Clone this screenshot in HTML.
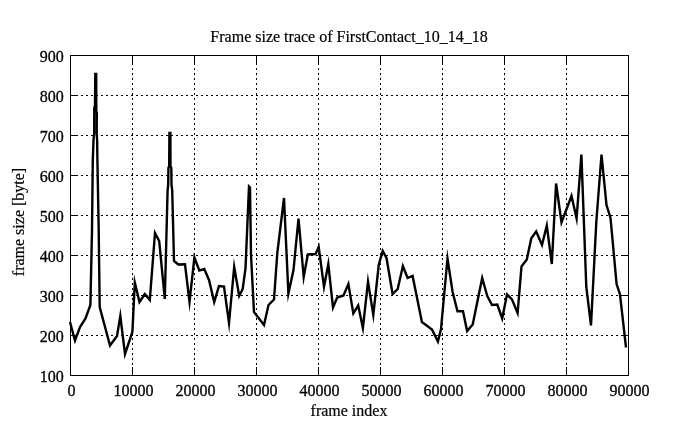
<!DOCTYPE html>
<html><head><meta charset="utf-8"><style>
html,body{margin:0;padding:0;background:#fff;}
svg{display:block;filter:grayscale(100%);}
text{font-family:"Liberation Serif",serif;font-size:16px;fill:#000;stroke:#000;stroke-width:0.2px;}
text.n{stroke-width:0.3px;}
</style></head><body>
<svg width="695" height="429" viewBox="0 0 695 429">
<rect width="695" height="429" fill="#fff"/>
<path d="M81 95.5h2M86 95.5h2M91 95.5h2M96 95.5h2M101 95.5h2M106 95.5h2M111 95.5h2M116 95.5h2M121 95.5h2M126 95.5h2M131 95.5h2M136 95.5h2M141 95.5h2M146 95.5h2M151 95.5h2M156 95.5h2M161 95.5h2M166 95.5h2M171 95.5h2M176 95.5h2M181 95.5h2M186 95.5h2M191 95.5h2M196 95.5h2M201 95.5h2M206 95.5h2M211 95.5h2M216 95.5h2M221 95.5h2M226 95.5h2M231 95.5h2M236 95.5h2M241 95.5h2M246 95.5h2M251 95.5h2M256 95.5h2M261 95.5h2M266 95.5h2M271 95.5h2M276 95.5h2M281 95.5h2M286 95.5h2M291 95.5h2M296 95.5h2M301 95.5h2M306 95.5h2M311 95.5h2M316 95.5h2M321 95.5h2M326 95.5h2M331 95.5h2M336 95.5h2M341 95.5h2M346 95.5h2M351 95.5h2M356 95.5h2M361 95.5h2M366 95.5h2M371 95.5h2M376 95.5h2M381 95.5h2M386 95.5h2M391 95.5h2M396 95.5h2M401 95.5h2M406 95.5h2M411 95.5h2M416 95.5h2M421 95.5h2M426 95.5h2M431 95.5h2M436 95.5h2M441 95.5h2M446 95.5h2M451 95.5h2M456 95.5h2M461 95.5h2M466 95.5h2M471 95.5h2M476 95.5h2M481 95.5h2M486 95.5h2M491 95.5h2M496 95.5h2M501 95.5h2M506 95.5h2M511 95.5h2M516 95.5h2M521 95.5h2M526 95.5h2M531 95.5h2M536 95.5h2M541 95.5h2M546 95.5h2M551 95.5h2M556 95.5h2M561 95.5h2M566 95.5h2M571 95.5h2M576 95.5h2M581 95.5h2M586 95.5h2M591 95.5h2M596 95.5h2M601 95.5h2M606 95.5h2M611 95.5h2M616 95.5h2M81 135.5h2M86 135.5h2M91 135.5h2M96 135.5h2M101 135.5h2M106 135.5h2M111 135.5h2M116 135.5h2M121 135.5h2M126 135.5h2M131 135.5h2M136 135.5h2M141 135.5h2M146 135.5h2M151 135.5h2M156 135.5h2M161 135.5h2M166 135.5h2M171 135.5h2M176 135.5h2M181 135.5h2M186 135.5h2M191 135.5h2M196 135.5h2M201 135.5h2M206 135.5h2M211 135.5h2M216 135.5h2M221 135.5h2M226 135.5h2M231 135.5h2M236 135.5h2M241 135.5h2M246 135.5h2M251 135.5h2M256 135.5h2M261 135.5h2M266 135.5h2M271 135.5h2M276 135.5h2M281 135.5h2M286 135.5h2M291 135.5h2M296 135.5h2M301 135.5h2M306 135.5h2M311 135.5h2M316 135.5h2M321 135.5h2M326 135.5h2M331 135.5h2M336 135.5h2M341 135.5h2M346 135.5h2M351 135.5h2M356 135.5h2M361 135.5h2M366 135.5h2M371 135.5h2M376 135.5h2M381 135.5h2M386 135.5h2M391 135.5h2M396 135.5h2M401 135.5h2M406 135.5h2M411 135.5h2M416 135.5h2M421 135.5h2M426 135.5h2M431 135.5h2M436 135.5h2M441 135.5h2M446 135.5h2M451 135.5h2M456 135.5h2M461 135.5h2M466 135.5h2M471 135.5h2M476 135.5h2M481 135.5h2M486 135.5h2M491 135.5h2M496 135.5h2M501 135.5h2M506 135.5h2M511 135.5h2M516 135.5h2M521 135.5h2M526 135.5h2M531 135.5h2M536 135.5h2M541 135.5h2M546 135.5h2M551 135.5h2M556 135.5h2M561 135.5h2M566 135.5h2M571 135.5h2M576 135.5h2M581 135.5h2M586 135.5h2M591 135.5h2M596 135.5h2M601 135.5h2M606 135.5h2M611 135.5h2M616 135.5h2M81 175.5h2M86 175.5h2M91 175.5h2M96 175.5h2M101 175.5h2M106 175.5h2M111 175.5h2M116 175.5h2M121 175.5h2M126 175.5h2M131 175.5h2M136 175.5h2M141 175.5h2M146 175.5h2M151 175.5h2M156 175.5h2M161 175.5h2M166 175.5h2M171 175.5h2M176 175.5h2M181 175.5h2M186 175.5h2M191 175.5h2M196 175.5h2M201 175.5h2M206 175.5h2M211 175.5h2M216 175.5h2M221 175.5h2M226 175.5h2M231 175.5h2M236 175.5h2M241 175.5h2M246 175.5h2M251 175.5h2M256 175.5h2M261 175.5h2M266 175.5h2M271 175.5h2M276 175.5h2M281 175.5h2M286 175.5h2M291 175.5h2M296 175.5h2M301 175.5h2M306 175.5h2M311 175.5h2M316 175.5h2M321 175.5h2M326 175.5h2M331 175.5h2M336 175.5h2M341 175.5h2M346 175.5h2M351 175.5h2M356 175.5h2M361 175.5h2M366 175.5h2M371 175.5h2M376 175.5h2M381 175.5h2M386 175.5h2M391 175.5h2M396 175.5h2M401 175.5h2M406 175.5h2M411 175.5h2M416 175.5h2M421 175.5h2M426 175.5h2M431 175.5h2M436 175.5h2M441 175.5h2M446 175.5h2M451 175.5h2M456 175.5h2M461 175.5h2M466 175.5h2M471 175.5h2M476 175.5h2M481 175.5h2M486 175.5h2M491 175.5h2M496 175.5h2M501 175.5h2M506 175.5h2M511 175.5h2M516 175.5h2M521 175.5h2M526 175.5h2M531 175.5h2M536 175.5h2M541 175.5h2M546 175.5h2M551 175.5h2M556 175.5h2M561 175.5h2M566 175.5h2M571 175.5h2M576 175.5h2M581 175.5h2M586 175.5h2M591 175.5h2M596 175.5h2M601 175.5h2M606 175.5h2M611 175.5h2M616 175.5h2M81 215.5h2M86 215.5h2M91 215.5h2M96 215.5h2M101 215.5h2M106 215.5h2M111 215.5h2M116 215.5h2M121 215.5h2M126 215.5h2M131 215.5h2M136 215.5h2M141 215.5h2M146 215.5h2M151 215.5h2M156 215.5h2M161 215.5h2M166 215.5h2M171 215.5h2M176 215.5h2M181 215.5h2M186 215.5h2M191 215.5h2M196 215.5h2M201 215.5h2M206 215.5h2M211 215.5h2M216 215.5h2M221 215.5h2M226 215.5h2M231 215.5h2M236 215.5h2M241 215.5h2M246 215.5h2M251 215.5h2M256 215.5h2M261 215.5h2M266 215.5h2M271 215.5h2M276 215.5h2M281 215.5h2M286 215.5h2M291 215.5h2M296 215.5h2M301 215.5h2M306 215.5h2M311 215.5h2M316 215.5h2M321 215.5h2M326 215.5h2M331 215.5h2M336 215.5h2M341 215.5h2M346 215.5h2M351 215.5h2M356 215.5h2M361 215.5h2M366 215.5h2M371 215.5h2M376 215.5h2M381 215.5h2M386 215.5h2M391 215.5h2M396 215.5h2M401 215.5h2M406 215.5h2M411 215.5h2M416 215.5h2M421 215.5h2M426 215.5h2M431 215.5h2M436 215.5h2M441 215.5h2M446 215.5h2M451 215.5h2M456 215.5h2M461 215.5h2M466 215.5h2M471 215.5h2M476 215.5h2M481 215.5h2M486 215.5h2M491 215.5h2M496 215.5h2M501 215.5h2M506 215.5h2M511 215.5h2M516 215.5h2M521 215.5h2M526 215.5h2M531 215.5h2M536 215.5h2M541 215.5h2M546 215.5h2M551 215.5h2M556 215.5h2M561 215.5h2M566 215.5h2M571 215.5h2M576 215.5h2M581 215.5h2M586 215.5h2M591 215.5h2M596 215.5h2M601 215.5h2M606 215.5h2M611 215.5h2M616 215.5h2M81 255.5h2M86 255.5h2M91 255.5h2M96 255.5h2M101 255.5h2M106 255.5h2M111 255.5h2M116 255.5h2M121 255.5h2M126 255.5h2M131 255.5h2M136 255.5h2M141 255.5h2M146 255.5h2M151 255.5h2M156 255.5h2M161 255.5h2M166 255.5h2M171 255.5h2M176 255.5h2M181 255.5h2M186 255.5h2M191 255.5h2M196 255.5h2M201 255.5h2M206 255.5h2M211 255.5h2M216 255.5h2M221 255.5h2M226 255.5h2M231 255.5h2M236 255.5h2M241 255.5h2M246 255.5h2M251 255.5h2M256 255.5h2M261 255.5h2M266 255.5h2M271 255.5h2M276 255.5h2M281 255.5h2M286 255.5h2M291 255.5h2M296 255.5h2M301 255.5h2M306 255.5h2M311 255.5h2M316 255.5h2M321 255.5h2M326 255.5h2M331 255.5h2M336 255.5h2M341 255.5h2M346 255.5h2M351 255.5h2M356 255.5h2M361 255.5h2M366 255.5h2M371 255.5h2M376 255.5h2M381 255.5h2M386 255.5h2M391 255.5h2M396 255.5h2M401 255.5h2M406 255.5h2M411 255.5h2M416 255.5h2M421 255.5h2M426 255.5h2M431 255.5h2M436 255.5h2M441 255.5h2M446 255.5h2M451 255.5h2M456 255.5h2M461 255.5h2M466 255.5h2M471 255.5h2M476 255.5h2M481 255.5h2M486 255.5h2M491 255.5h2M496 255.5h2M501 255.5h2M506 255.5h2M511 255.5h2M516 255.5h2M521 255.5h2M526 255.5h2M531 255.5h2M536 255.5h2M541 255.5h2M546 255.5h2M551 255.5h2M556 255.5h2M561 255.5h2M566 255.5h2M571 255.5h2M576 255.5h2M581 255.5h2M586 255.5h2M591 255.5h2M596 255.5h2M601 255.5h2M606 255.5h2M611 255.5h2M616 255.5h2M81 295.5h2M86 295.5h2M91 295.5h2M96 295.5h2M101 295.5h2M106 295.5h2M111 295.5h2M116 295.5h2M121 295.5h2M126 295.5h2M131 295.5h2M136 295.5h2M141 295.5h2M146 295.5h2M151 295.5h2M156 295.5h2M161 295.5h2M166 295.5h2M171 295.5h2M176 295.5h2M181 295.5h2M186 295.5h2M191 295.5h2M196 295.5h2M201 295.5h2M206 295.5h2M211 295.5h2M216 295.5h2M221 295.5h2M226 295.5h2M231 295.5h2M236 295.5h2M241 295.5h2M246 295.5h2M251 295.5h2M256 295.5h2M261 295.5h2M266 295.5h2M271 295.5h2M276 295.5h2M281 295.5h2M286 295.5h2M291 295.5h2M296 295.5h2M301 295.5h2M306 295.5h2M311 295.5h2M316 295.5h2M321 295.5h2M326 295.5h2M331 295.5h2M336 295.5h2M341 295.5h2M346 295.5h2M351 295.5h2M356 295.5h2M361 295.5h2M366 295.5h2M371 295.5h2M376 295.5h2M381 295.5h2M386 295.5h2M391 295.5h2M396 295.5h2M401 295.5h2M406 295.5h2M411 295.5h2M416 295.5h2M421 295.5h2M426 295.5h2M431 295.5h2M436 295.5h2M441 295.5h2M446 295.5h2M451 295.5h2M456 295.5h2M461 295.5h2M466 295.5h2M471 295.5h2M476 295.5h2M481 295.5h2M486 295.5h2M491 295.5h2M496 295.5h2M501 295.5h2M506 295.5h2M511 295.5h2M516 295.5h2M521 295.5h2M526 295.5h2M531 295.5h2M536 295.5h2M541 295.5h2M546 295.5h2M551 295.5h2M556 295.5h2M561 295.5h2M566 295.5h2M571 295.5h2M576 295.5h2M581 295.5h2M586 295.5h2M591 295.5h2M596 295.5h2M601 295.5h2M606 295.5h2M611 295.5h2M616 295.5h2M81 335.5h2M86 335.5h2M91 335.5h2M96 335.5h2M101 335.5h2M106 335.5h2M111 335.5h2M116 335.5h2M121 335.5h2M126 335.5h2M131 335.5h2M136 335.5h2M141 335.5h2M146 335.5h2M151 335.5h2M156 335.5h2M161 335.5h2M166 335.5h2M171 335.5h2M176 335.5h2M181 335.5h2M186 335.5h2M191 335.5h2M196 335.5h2M201 335.5h2M206 335.5h2M211 335.5h2M216 335.5h2M221 335.5h2M226 335.5h2M231 335.5h2M236 335.5h2M241 335.5h2M246 335.5h2M251 335.5h2M256 335.5h2M261 335.5h2M266 335.5h2M271 335.5h2M276 335.5h2M281 335.5h2M286 335.5h2M291 335.5h2M296 335.5h2M301 335.5h2M306 335.5h2M311 335.5h2M316 335.5h2M321 335.5h2M326 335.5h2M331 335.5h2M336 335.5h2M341 335.5h2M346 335.5h2M351 335.5h2M356 335.5h2M361 335.5h2M366 335.5h2M371 335.5h2M376 335.5h2M381 335.5h2M386 335.5h2M391 335.5h2M396 335.5h2M401 335.5h2M406 335.5h2M411 335.5h2M416 335.5h2M421 335.5h2M426 335.5h2M431 335.5h2M436 335.5h2M441 335.5h2M446 335.5h2M451 335.5h2M456 335.5h2M461 335.5h2M466 335.5h2M471 335.5h2M476 335.5h2M481 335.5h2M486 335.5h2M491 335.5h2M496 335.5h2M501 335.5h2M506 335.5h2M511 335.5h2M516 335.5h2M521 335.5h2M526 335.5h2M531 335.5h2M536 335.5h2M541 335.5h2M546 335.5h2M551 335.5h2M556 335.5h2M561 335.5h2M566 335.5h2M571 335.5h2M576 335.5h2M581 335.5h2M586 335.5h2M591 335.5h2M596 335.5h2M601 335.5h2M606 335.5h2M611 335.5h2M616 335.5h2M132.5 63v2M132.5 68v2M132.5 73v2M132.5 78v2M132.5 83v2M132.5 88v2M132.5 93v2M132.5 98v2M132.5 103v2M132.5 108v2M132.5 113v2M132.5 118v2M132.5 123v2M132.5 128v2M132.5 133v2M132.5 138v2M132.5 143v2M132.5 148v2M132.5 153v2M132.5 158v2M132.5 163v2M132.5 168v2M132.5 173v2M132.5 178v2M132.5 183v2M132.5 188v2M132.5 193v2M132.5 198v2M132.5 203v2M132.5 208v2M132.5 213v2M132.5 218v2M132.5 223v2M132.5 228v2M132.5 233v2M132.5 238v2M132.5 243v2M132.5 248v2M132.5 253v2M132.5 258v2M132.5 263v2M132.5 268v2M132.5 273v2M132.5 278v2M132.5 283v2M132.5 288v2M132.5 293v2M132.5 298v2M132.5 303v2M132.5 308v2M132.5 313v2M132.5 318v2M132.5 323v2M132.5 328v2M132.5 333v2M132.5 338v2M132.5 343v2M132.5 348v2M132.5 353v2M132.5 358v2M132.5 363v2M194.5 63v2M194.5 68v2M194.5 73v2M194.5 78v2M194.5 83v2M194.5 88v2M194.5 93v2M194.5 98v2M194.5 103v2M194.5 108v2M194.5 113v2M194.5 118v2M194.5 123v2M194.5 128v2M194.5 133v2M194.5 138v2M194.5 143v2M194.5 148v2M194.5 153v2M194.5 158v2M194.5 163v2M194.5 168v2M194.5 173v2M194.5 178v2M194.5 183v2M194.5 188v2M194.5 193v2M194.5 198v2M194.5 203v2M194.5 208v2M194.5 213v2M194.5 218v2M194.5 223v2M194.5 228v2M194.5 233v2M194.5 238v2M194.5 243v2M194.5 248v2M194.5 253v2M194.5 258v2M194.5 263v2M194.5 268v2M194.5 273v2M194.5 278v2M194.5 283v2M194.5 288v2M194.5 293v2M194.5 298v2M194.5 303v2M194.5 308v2M194.5 313v2M194.5 318v2M194.5 323v2M194.5 328v2M194.5 333v2M194.5 338v2M194.5 343v2M194.5 348v2M194.5 353v2M194.5 358v2M194.5 363v2M256.5 63v2M256.5 68v2M256.5 73v2M256.5 78v2M256.5 83v2M256.5 88v2M256.5 93v2M256.5 98v2M256.5 103v2M256.5 108v2M256.5 113v2M256.5 118v2M256.5 123v2M256.5 128v2M256.5 133v2M256.5 138v2M256.5 143v2M256.5 148v2M256.5 153v2M256.5 158v2M256.5 163v2M256.5 168v2M256.5 173v2M256.5 178v2M256.5 183v2M256.5 188v2M256.5 193v2M256.5 198v2M256.5 203v2M256.5 208v2M256.5 213v2M256.5 218v2M256.5 223v2M256.5 228v2M256.5 233v2M256.5 238v2M256.5 243v2M256.5 248v2M256.5 253v2M256.5 258v2M256.5 263v2M256.5 268v2M256.5 273v2M256.5 278v2M256.5 283v2M256.5 288v2M256.5 293v2M256.5 298v2M256.5 303v2M256.5 308v2M256.5 313v2M256.5 318v2M256.5 323v2M256.5 328v2M256.5 333v2M256.5 338v2M256.5 343v2M256.5 348v2M256.5 353v2M256.5 358v2M256.5 363v2M318.5 63v2M318.5 68v2M318.5 73v2M318.5 78v2M318.5 83v2M318.5 88v2M318.5 93v2M318.5 98v2M318.5 103v2M318.5 108v2M318.5 113v2M318.5 118v2M318.5 123v2M318.5 128v2M318.5 133v2M318.5 138v2M318.5 143v2M318.5 148v2M318.5 153v2M318.5 158v2M318.5 163v2M318.5 168v2M318.5 173v2M318.5 178v2M318.5 183v2M318.5 188v2M318.5 193v2M318.5 198v2M318.5 203v2M318.5 208v2M318.5 213v2M318.5 218v2M318.5 223v2M318.5 228v2M318.5 233v2M318.5 238v2M318.5 243v2M318.5 248v2M318.5 253v2M318.5 258v2M318.5 263v2M318.5 268v2M318.5 273v2M318.5 278v2M318.5 283v2M318.5 288v2M318.5 293v2M318.5 298v2M318.5 303v2M318.5 308v2M318.5 313v2M318.5 318v2M318.5 323v2M318.5 328v2M318.5 333v2M318.5 338v2M318.5 343v2M318.5 348v2M318.5 353v2M318.5 358v2M318.5 363v2M380.5 63v2M380.5 68v2M380.5 73v2M380.5 78v2M380.5 83v2M380.5 88v2M380.5 93v2M380.5 98v2M380.5 103v2M380.5 108v2M380.5 113v2M380.5 118v2M380.5 123v2M380.5 128v2M380.5 133v2M380.5 138v2M380.5 143v2M380.5 148v2M380.5 153v2M380.5 158v2M380.5 163v2M380.5 168v2M380.5 173v2M380.5 178v2M380.5 183v2M380.5 188v2M380.5 193v2M380.5 198v2M380.5 203v2M380.5 208v2M380.5 213v2M380.5 218v2M380.5 223v2M380.5 228v2M380.5 233v2M380.5 238v2M380.5 243v2M380.5 248v2M380.5 253v2M380.5 258v2M380.5 263v2M380.5 268v2M380.5 273v2M380.5 278v2M380.5 283v2M380.5 288v2M380.5 293v2M380.5 298v2M380.5 303v2M380.5 308v2M380.5 313v2M380.5 318v2M380.5 323v2M380.5 328v2M380.5 333v2M380.5 338v2M380.5 343v2M380.5 348v2M380.5 353v2M380.5 358v2M380.5 363v2M442.5 63v2M442.5 68v2M442.5 73v2M442.5 78v2M442.5 83v2M442.5 88v2M442.5 93v2M442.5 98v2M442.5 103v2M442.5 108v2M442.5 113v2M442.5 118v2M442.5 123v2M442.5 128v2M442.5 133v2M442.5 138v2M442.5 143v2M442.5 148v2M442.5 153v2M442.5 158v2M442.5 163v2M442.5 168v2M442.5 173v2M442.5 178v2M442.5 183v2M442.5 188v2M442.5 193v2M442.5 198v2M442.5 203v2M442.5 208v2M442.5 213v2M442.5 218v2M442.5 223v2M442.5 228v2M442.5 233v2M442.5 238v2M442.5 243v2M442.5 248v2M442.5 253v2M442.5 258v2M442.5 263v2M442.5 268v2M442.5 273v2M442.5 278v2M442.5 283v2M442.5 288v2M442.5 293v2M442.5 298v2M442.5 303v2M442.5 308v2M442.5 313v2M442.5 318v2M442.5 323v2M442.5 328v2M442.5 333v2M442.5 338v2M442.5 343v2M442.5 348v2M442.5 353v2M442.5 358v2M442.5 363v2M504.5 63v2M504.5 68v2M504.5 73v2M504.5 78v2M504.5 83v2M504.5 88v2M504.5 93v2M504.5 98v2M504.5 103v2M504.5 108v2M504.5 113v2M504.5 118v2M504.5 123v2M504.5 128v2M504.5 133v2M504.5 138v2M504.5 143v2M504.5 148v2M504.5 153v2M504.5 158v2M504.5 163v2M504.5 168v2M504.5 173v2M504.5 178v2M504.5 183v2M504.5 188v2M504.5 193v2M504.5 198v2M504.5 203v2M504.5 208v2M504.5 213v2M504.5 218v2M504.5 223v2M504.5 228v2M504.5 233v2M504.5 238v2M504.5 243v2M504.5 248v2M504.5 253v2M504.5 258v2M504.5 263v2M504.5 268v2M504.5 273v2M504.5 278v2M504.5 283v2M504.5 288v2M504.5 293v2M504.5 298v2M504.5 303v2M504.5 308v2M504.5 313v2M504.5 318v2M504.5 323v2M504.5 328v2M504.5 333v2M504.5 338v2M504.5 343v2M504.5 348v2M504.5 353v2M504.5 358v2M504.5 363v2M566.5 63v2M566.5 68v2M566.5 73v2M566.5 78v2M566.5 83v2M566.5 88v2M566.5 93v2M566.5 98v2M566.5 103v2M566.5 108v2M566.5 113v2M566.5 118v2M566.5 123v2M566.5 128v2M566.5 133v2M566.5 138v2M566.5 143v2M566.5 148v2M566.5 153v2M566.5 158v2M566.5 163v2M566.5 168v2M566.5 173v2M566.5 178v2M566.5 183v2M566.5 188v2M566.5 193v2M566.5 198v2M566.5 203v2M566.5 208v2M566.5 213v2M566.5 218v2M566.5 223v2M566.5 228v2M566.5 233v2M566.5 238v2M566.5 243v2M566.5 248v2M566.5 253v2M566.5 258v2M566.5 263v2M566.5 268v2M566.5 273v2M566.5 278v2M566.5 283v2M566.5 288v2M566.5 293v2M566.5 298v2M566.5 303v2M566.5 308v2M566.5 313v2M566.5 318v2M566.5 323v2M566.5 328v2M566.5 333v2M566.5 338v2M566.5 343v2M566.5 348v2M566.5 353v2M566.5 358v2M566.5 363v2" stroke="#000" stroke-width="1" fill="none" shape-rendering="crispEdges"/>
<path d="M70 95.5h8M621 95.5h7M70 135.5h8M621 135.5h7M70 175.5h8M621 175.5h7M70 215.5h8M621 215.5h7M70 255.5h8M621 255.5h7M70 295.5h8M621 295.5h7M70 335.5h8M621 335.5h7M132.5 375v-8M132.5 55v8M194.5 375v-8M194.5 55v8M256.5 375v-8M256.5 55v8M318.5 375v-8M318.5 55v8M380.5 375v-8M380.5 55v8M442.5 375v-8M442.5 55v8M504.5 375v-8M504.5 55v8M566.5 375v-8M566.5 55v8" stroke="#000" stroke-width="1" fill="none" shape-rendering="crispEdges"/>
<rect x="70.5" y="55.5" width="558" height="320" stroke="#000" stroke-width="1" fill="none" shape-rendering="crispEdges"/>
<polyline points="70,322 75,340.5 80,327 85.5,318.5 90.4,305 92,230 92.8,160 93.5,140 94.2,133 94.3,108 95.0,105.5 95.3,74 96.2,74 96.3,111 96.8,113 96.7,133 97.1,140 97.4,160 98.7,230 99.7,307 110,345.5 117,336 120.3,316 125,354 132.4,332 134.8,282.5 139.5,302 144.8,294 149.8,300 155,233 159.2,241 164.8,299 167.6,190 168.2,185 168.4,168 169.2,166 169.4,133 170.4,133 170.5,166 171.3,168 171.5,185 172.2,190 174,261 178.3,264.5 185,264.3 189.5,302 194.4,257.5 199.3,270.5 204.3,269 209,280 214.2,302 219,286 224,286.5 229,323 234.2,267 239.2,296 242.7,289 245.5,268.5 249,186.5 250,187.5 251,255 254,312 264,325 268.5,305 274,299.5 277.3,253 284,198 288.4,293.5 293.5,270 298.5,218.5 303.7,277 307.8,254.5 315.6,254 318.7,247 324,287 328.3,264 333,307.5 337.2,297.5 343.5,295.5 348.4,284 353.3,313.5 358.2,305.5 362.9,328 368,281.5 373.3,315 378.8,264.5 382.7,251 386.5,258 392.6,294 397.7,289 402.9,266 407.6,278 412.6,276 421.9,322 432,329.5 437.9,341.5 441,329 447.5,258.5 452.6,292 457.5,311.3 463,311.3 467.1,331 472.7,324.5 482.2,278 487.3,296 492,305 497.3,304.5 502.2,318.5 507,294.5 512,299.5 517.6,313 521.5,266.5 526.8,259.5 531.3,238.3 536.2,231.5 542,245 546.8,225.5 551.8,264 556.1,183.5 561.5,222.5 571.5,196 576.6,218.5 581.4,154.5 586.3,287 591,325.5 596.3,222 601.5,154.5 606.5,205 610.5,218 616.6,284 620,294.5 626,347.5" stroke="#000" stroke-width="2.4" fill="none" stroke-linejoin="miter" stroke-miterlimit="10"/>
<text x="349" y="42" text-anchor="middle">Frame size trace of FirstContact_10_14_18</text>
<text class="n" x="63.7" y="62" text-anchor="end">900</text><text class="n" x="63.7" y="102" text-anchor="end">800</text><text class="n" x="63.7" y="142" text-anchor="end">700</text><text class="n" x="63.7" y="182" text-anchor="end">600</text><text class="n" x="63.7" y="222" text-anchor="end">500</text><text class="n" x="63.7" y="262" text-anchor="end">400</text><text class="n" x="63.7" y="302" text-anchor="end">300</text><text class="n" x="63.7" y="342" text-anchor="end">200</text><text class="n" x="63.7" y="382" text-anchor="end">100</text>
<text class="n" x="71.5" y="396.3" text-anchor="middle">0</text><text class="n" x="133.5" y="396.3" text-anchor="middle">10000</text><text class="n" x="195.5" y="396.3" text-anchor="middle">20000</text><text class="n" x="257.5" y="396.3" text-anchor="middle">30000</text><text class="n" x="319.5" y="396.3" text-anchor="middle">40000</text><text class="n" x="381.5" y="396.3" text-anchor="middle">50000</text><text class="n" x="443.5" y="396.3" text-anchor="middle">60000</text><text class="n" x="505.5" y="396.3" text-anchor="middle">70000</text><text class="n" x="567.5" y="396.3" text-anchor="middle">80000</text><text class="n" x="629.5" y="396.3" text-anchor="middle">90000</text>
<text x="349" y="416" text-anchor="middle">frame index</text>
<text transform="translate(24,222) rotate(-90)" text-anchor="middle">frame size [byte]</text>
</svg>
</body></html>
